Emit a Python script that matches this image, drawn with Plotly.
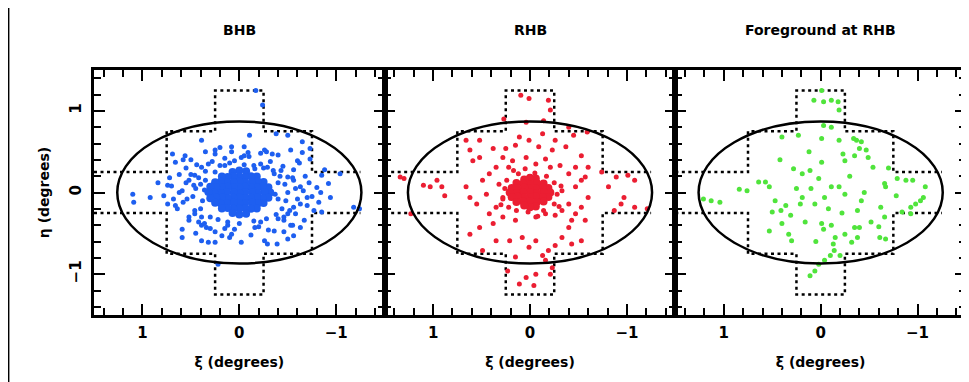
import plotly.graph_objects as go
from plotly.subplots import make_subplots

# ---------------- data (degrees) ----------------
panel_titles = ["BHB", "RHB", "Foreground at RHB"]
x_tick_vals = [1, 0, -1]
y_tick_vals = [-1, 0, 1]

# BHB: scattered stars
bhb_xi = [-0.17, -0.24, -0.105, -0.38, -0.50, 0.39, 0.69, 0.66, 0.56, 0.25,
          0.08, -0.09, -0.26, -0.34, -0.53, -0.65, -0.65, -0.60, -0.73, -0.73,
          -0.85, -1.04, -0.92, -0.94, -0.84, -0.77, -0.85, -1.24, -1.18, 1.10,
          1.09, 0.92, 0.74, 0.74, 0.66, 0.59, 0.54, 0.47, 0.46, 0.52,
          0.59, 0.39, 0.34, 0.39, 0.32, 0.25, 0.18, 0.08, -0.02, -0.26,
          -0.29, -0.39, -0.50, -0.56, -0.63, -0.67, -0.53, -0.46, -0.36, 0.22,
          0.59, -0.22, -0.16, 0.12, 0.39, -0.36, -0.50, -0.56, -0.63, -0.70,
          -0.63, -0.56, -0.50, 0.39, 0.32, 0.25, 0.46, 0.52, 0.35, -0.22,
          -0.29, -0.16, -0.43, 0.05, 0.15, -0.02]
bhb_eta = [1.25, 1.07, 0.70, 0.72, 0.70, 0.64, 0.47, 0.37, 0.45, 0.52,
           0.56, 0.49, 0.52, 0.47, 0.52, 0.62, 0.49, 0.39, 0.54, 0.41,
           0.21, 0.23, 0.11, -0.06, 0.0, -0.22, -0.24, -0.20, -0.18, -0.02,
           -0.12, -0.06, 0.09, -0.14, -0.16, 0.02, -0.08, 0.09, -0.22, -0.34,
           -0.45, -0.40, -0.43, -0.59, -0.61, -0.61, -0.53, -0.51, -0.61, -0.59,
           -0.63, -0.63, -0.57, -0.53, -0.43, -0.34, -0.40, -0.34, -0.47, -0.88,
           -0.55, -0.36, -0.43, -0.40, -0.30, 0.23, 0.19, 0.15, 0.07, -0.06,
           -0.14, -0.18, -0.26, 0.31, 0.35, 0.25, 0.21, 0.15, 0.15, 0.35,
           0.31, 0.29, 0.27, 0.39, 0.33, 0.43]
# BHB: halo around the concentration
bhb_halo_xi = [0.45, 0.48, 0.42, 0.40, 0.35, 0.30, 0.20, 0.10, -0.05, -0.15,
               -0.25, -0.35, -0.42, -0.47, -0.50, -0.48, -0.44, -0.38, -0.28, -0.15,
               0.0, 0.12, 0.22, 0.55, 0.58, -0.58, -0.60, -0.55, -0.52, 0.50,
               0.46, 0.15, -0.10, 0.05, -0.20, 0.28, -0.32, 0.62, -0.66, 0.36,
               -0.40, 0.70, 0.68, -0.72, -0.75, 0.25, -0.22, 0.30, -0.30, 0.08,
               0.62, 0.64, 0.55, 0.52, 0.44, 0.42, -0.45, -0.46, -0.56, -0.58,
               -0.68, -0.70, 0.72, 0.78, -0.80, -0.82, 0.20, -0.05, 0.10, -0.12,
               0.35, -0.40, 0.45, -0.46, 0.58, -0.62, 0.84, -0.88, 0.40, -0.40,
               0.38, -0.40, 0.15, -0.05, 0.25, -0.28, 0.50, -0.55, 0.36, -0.37]
bhb_halo_eta = [0.05, -0.05, 0.18, -0.20, 0.26, -0.30, 0.33, 0.36, 0.34, 0.33,
                0.30, 0.27, 0.20, 0.10, 0.0, -0.10, -0.20, -0.27, -0.32, -0.35,
                -0.38, -0.36, -0.33, 0.12, -0.12, 0.05, -0.08, 0.18, -0.22, 0.22,
                -0.26, 0.42, 0.44, -0.45, -0.42, 0.38, 0.38, 0.0, 0.02, -0.38,
                -0.32, 0.08, -0.08, 0.12, -0.05, 0.47, 0.48, -0.44, -0.46, 0.50,
                0.22, -0.20, 0.30, -0.30, 0.34, -0.36, 0.32, -0.30, 0.28, -0.26,
                0.20, -0.16, 0.18, -0.04, 0.06, -0.12, 0.55, 0.56, -0.55, -0.52,
                0.50, 0.46, -0.50, -0.48, 0.40, 0.36, 0.12, 0.28, 0.10, -0.08,
                -0.10, 0.12, -0.44, 0.45, -0.48, 0.50, 0.40, -0.40, 0.03, -0.02]
# BHB: dense central concentration
bhb_core_xi = [-0.07, 0.00, 0.07,
               -0.18, -0.12, -0.06, 0.00, 0.06, 0.12, 0.18,
               -0.25, -0.19, -0.13, -0.06, 0.00, 0.06, 0.13, 0.19, 0.25,
               -0.30, -0.24, -0.18, -0.12, -0.06, 0.00, 0.06, 0.12, 0.18, 0.24, 0.30,
               -0.32, -0.26, -0.19, -0.13, -0.06, 0.00, 0.06, 0.13, 0.19, 0.26, 0.32,
               -0.30, -0.24, -0.18, -0.12, -0.06, 0.00, 0.06, 0.12, 0.18, 0.24, 0.30,
               -0.25, -0.19, -0.13, -0.06, 0.00, 0.06, 0.13, 0.19, 0.25,
               -0.18, -0.12, -0.06, 0.00, 0.06, 0.12, 0.18,
               -0.07, 0.00, 0.07]
bhb_core_eta = [0.26, 0.27, 0.25,
                0.195, 0.20, 0.19, 0.195, 0.20, 0.19, 0.195,
                0.13, 0.135, 0.125, 0.13, 0.135, 0.125, 0.13, 0.135, 0.125,
                0.065, 0.07, 0.06, 0.065, 0.07, 0.06, 0.065, 0.07, 0.06, 0.065, 0.07,
                0.0, 0.005, -0.005, 0.0, 0.005, -0.005, 0.0, 0.005, -0.005, 0.0, 0.005,
                -0.065, -0.07, -0.06, -0.065, -0.07, -0.06, -0.065, -0.07, -0.06, -0.065, -0.07,
                -0.13, -0.135, -0.125, -0.13, -0.135, -0.125, -0.13, -0.135, -0.125,
                -0.195, -0.20, -0.19, -0.195, -0.20, -0.19, -0.195,
                -0.26, -0.27, -0.25]

# RHB: scattered stars
rhb_xi = [0.095, 0.01, -0.19, -0.21, 0.27, 0.04, -0.14, -0.40, -0.45, -0.59,
          0.66, 0.52, 0.62, 0.59, 0.52, 0.38, 0.25, 0.15, 0.01, -0.09,
          -0.23, -0.37, -0.53, -0.60, -0.57, -0.47, -0.40, -0.31, -0.21, 0.28,
          0.22, 0.35, 0.42, 0.49, 0.66, 0.62, 0.55, 0.45, 0.91, 0.88,
          0.96, 1.10, 1.03, 1.34, 1.30, 1.23, -0.74, -0.89, -1.01, -1.08,
          -0.81, -0.97, -0.94, -0.87, -1.08, -1.21, -0.60, -0.53, -0.47, -0.43,
          -0.57, -0.40, -0.33, -0.53, -0.43, -0.26, -0.19, -0.13, -0.16, -0.23,
          -0.21, -0.06, 0.04, 0.11, -0.04, 0.23, 0.15, 0.01, -0.06, 0.08,
          0.21, 0.35, 0.49, 0.62, 0.52, 0.38, 0.28, 0.15, -0.06, -0.16,
          -0.26, -0.33, -0.40, -0.33, -0.47, -0.53, 0.28, 0.35, 0.42, 0.11,
          -0.13, -0.26, 0.18, 0.04, -0.06, -0.16]
rhb_eta = [1.19, 1.15, 1.13, 1.01, 0.90, 0.86, 0.88, 0.80, 0.70, 0.74,
           0.64, 0.64, 0.52, 0.39, 0.43, 0.54, 0.54, 0.58, 0.64, 0.56,
           0.52, 0.56, 0.45, 0.31, 0.19, 0.31, 0.23, 0.33, 0.31, 0.43,
           0.31, 0.31, 0.23, 0.15, 0.07, -0.06, -0.14, -0.02, 0.07, -0.04,
           0.15, 0.09, 0.07, 0.19, 0.17, -0.26, 0.25, 0.19, 0.21, 0.15,
           0.07, -0.06, -0.14, -0.22, -0.18, -0.20, -0.06, -0.18, -0.26, -0.34,
           -0.34, -0.43, -0.55, -0.59, -0.63, -0.65, -0.71, -0.77, -0.83, -0.92,
           -1.0, -1.0, -1.04, -1.12, -1.14, -0.96, -0.79, -0.67, -0.59, -0.55,
           -0.59, -0.59, -0.71, -0.51, -0.43, -0.38, -0.30, -0.34, -0.30, -0.26,
           -0.28, -0.22, -0.14, 0.02, 0.07, 0.15, -0.06, -0.18, -0.26, 0.68,
           0.72, 0.64, 0.39, 0.43, 0.35, 0.41]
rhb_halo_xi = [0.26, 0.28, 0.24, 0.22, 0.12, -0.05, -0.17, -0.25, -0.28, -0.25,
               -0.14, 0.02, 0.14, 0.32, -0.32, 0.30, -0.30, 0.05, -0.08, 0.17]
rhb_halo_eta = [0.05, -0.08, 0.15, -0.18, 0.23, 0.24, 0.20, 0.12, -0.02, -0.14,
                -0.22, -0.24, -0.22, 0.10, 0.08, -0.15, -0.17, 0.29, -0.29, 0.27]
rhb_core_xi = [-0.06, 0.00, 0.06,
               -0.14, -0.07, 0.00, 0.07, 0.14,
               -0.19, -0.13, -0.06, 0.00, 0.06, 0.13, 0.19,
               -0.21, -0.14, -0.07, 0.00, 0.07, 0.14, 0.21,
               -0.19, -0.13, -0.06, 0.00, 0.06, 0.13, 0.19,
               -0.14, -0.07, 0.00, 0.07, 0.14,
               -0.06, 0.00, 0.06]
rhb_core_eta = [0.17, 0.18, 0.16,
                0.11, 0.115, 0.105, 0.11, 0.115,
                0.055, 0.06, 0.05, 0.055, 0.06, 0.05, 0.055,
                0.0, 0.005, -0.005, 0.0, 0.005, -0.005, 0.0,
                -0.055, -0.06, -0.05, -0.055, -0.06, -0.05, -0.055,
                -0.11, -0.115, -0.105, -0.11, -0.115,
                -0.17, -0.18, -0.16]

# Foreground at RHB colours
fg_xi = [-0.01, 0.07, -0.03, -0.11, -0.18, -0.19, -0.03, -0.11, 0.40, 0.23,
         -0.01, -0.19, -0.37, -0.42, -0.47, -0.40, -0.23, -0.25, -0.49, -0.54,
         -0.01, 0.11, 0.28, 0.19, 0.64, 0.57, 0.84, 0.76, 1.21, 1.04,
         1.13, 0.02, -0.11, -0.19, -0.25, -0.04, 0.06, 0.19, 0.21, 0.36,
         0.41, 0.50, 0.31, 0.53, 0.33, 0.30, 0.16, -0.01, -0.03, -0.11,
         -0.13, -0.14, -0.10, -0.20, -0.04, 0.02, 0.06, 0.11, -0.35, -0.40,
         -0.52, -0.66, -0.61, -0.67, -0.38, -0.32, -0.25, -0.42, -0.38, -0.62,
         -0.66, -0.67, -0.79, -0.88, -0.95, -0.78, -0.84, -0.93, -0.98, -1.03,
         -1.06, -1.08, -0.93, 0.47, 0.53, -0.34, -0.30, 0.10, -0.08, 0.05,
         -0.22, 0.42, -0.60, -0.45, 0.25, -0.15, 0.40, -0.70, -0.35, 0.12]
fg_eta = [1.25, 1.13, 1.11, 1.13, 1.11, 1.01, 0.82, 0.80, 0.68, 0.70,
          0.66, 0.64, 0.64, 0.62, 0.52, 0.54, 0.47, 0.39, 0.43, 0.31,
          0.37, 0.27, 0.29, 0.23, 0.13, 0.13, 0.04, 0.02, -0.08, -0.12,
          -0.10, 0.17, 0.07, 0.07, -0.02, -0.06, -0.14, -0.06, -0.14, -0.16,
          -0.22, -0.24, -0.28, -0.47, -0.51, -0.59, -0.36, -0.38, -0.45, -0.40,
          -0.63, -0.71, -0.77, -0.77, -0.83, -0.88, -0.96, -1.02, -0.43, -0.43,
          -0.36, -0.30, -0.55, -0.57, -0.55, -0.61, -0.51, -0.10, -0.22, -0.18,
          0.11, 0.07, 0.17, 0.15, 0.15, -0.04, -0.24, -0.26, -0.14, -0.10,
          -0.06, 0.07, -0.18, -0.10, 0.07, 0.66, 0.20, 0.05, -0.20, -0.60,
          -0.25, 0.40, -0.42, 0.00, 0.05, -0.55, -0.38, 0.30, 0.45, 0.50]

# survey field outline (cross shape), two halves separated by None
field_xi = [1.5, 0.75, 0.75, 0.25, 0.25, -0.25, -0.25, -0.75, -0.75, -1.25, None,
            1.5, 0.75, 0.75, 0.25, 0.25, -0.25, -0.25, -0.75, -0.75, -1.25]
field_eta = [0.25, 0.25, 0.75, 0.75, 1.25, 1.25, 0.75, 0.75, 0.25, 0.25, None,
             -0.25, -0.25, -0.75, -0.75, -1.25, -1.25, -0.75, -0.75, -0.25, -0.25]

# tidal ellipse semi-axes (degrees)
ellipse_a = 1.26
ellipse_b = 0.87

# ---------------- figure ----------------
BLUE = "rgb(30,95,240)"
RED = "rgb(235,30,50)"
GREEN = "rgb(80,228,60)"
FONT = "DejaVu Sans"

fig = make_subplots(rows=1, cols=3, shared_yaxes=True, horizontal_spacing=0)

panels = [
    (1, BLUE, [(bhb_xi, bhb_eta, 5), (bhb_halo_xi, bhb_halo_eta, 5), (bhb_core_xi, bhb_core_eta, 8)]),
    (2, RED, [(rhb_xi, rhb_eta, 5), (rhb_halo_xi, rhb_halo_eta, 5), (rhb_core_xi, rhb_core_eta, 8)]),
    (3, GREEN, [(fg_xi, fg_eta, 5)]),
]

for col, colour, sets in panels:
    fig.add_trace(go.Scatter(x=field_xi, y=field_eta, mode="lines",
                             line=dict(color="black", width=2.5, dash="3px,3.5px"),
                             hoverinfo="skip", showlegend=False), row=1, col=col)
    for xs, ys, sz in sets:
        fig.add_trace(go.Scatter(x=xs, y=ys, mode="markers",
                                 marker=dict(color=colour, size=sz, line=dict(width=0)),
                                 showlegend=False), row=1, col=col)
    sfx = "" if col == 1 else str(col)
    fig.add_shape(type="circle", xref="x" + sfx, yref="y" + sfx,
                  x0=-ellipse_a, x1=ellipse_a, y0=-ellipse_b, y1=ellipse_b,
                  line=dict(color="black", width=2.5), layer="above")

tickfont = dict(family=FONT, size=15, color="black", weight="bold")
axis_common = dict(showline=True, linecolor="black", linewidth=2.5, mirror="ticks",
                   ticks="inside", ticklen=11, tickwidth=2, tickcolor="black",
                   showgrid=False, zeroline=False, tickfont=tickfont, automargin=False,
                   minor=dict(ticks="inside", ticklen=7, tickwidth=2, tickcolor="black",
                              dtick=0.2, tick0=0, showgrid=False))

for col in (1, 2, 3):
    fig.update_xaxes(range=[1.5, -1.5], tickmode="array", tickvals=x_tick_vals,
                     ticklabelstandoff=2,
                     title=dict(text="ξ (degrees)", standoff=17,
                                font=dict(family=FONT, size=14, color="black", weight="bold")),
                     row=1, col=col, **axis_common)
    fig.update_yaxes(range=[-1.5, 1.5], tickmode="array", tickvals=y_tick_vals,
                     tickangle=-90, row=1, col=col, **axis_common)

fig.update_yaxes(title=dict(text="η (degrees)", standoff=15,
                            font=dict(family=FONT, size=14, color="black", weight="bold")),
                 ticklabelstandoff=4, row=1, col=1)

# white page on a black frame (page is shown with an offset)
fig.add_shape(type="rect", xref="paper", yref="paper", x0=-0.097, x1=1.1, y0=-0.4, y1=1.4,
              fillcolor="white", line=dict(width=0), layer="below")

for i, t in enumerate(panel_titles):
    fig.add_annotation(text=t, xref="paper", yref="paper", x=(i + 0.5) / 3, y=1.162,
                       xanchor="center", yanchor="middle", showarrow=False,
                       font=dict(family=FONT, size=14, color="black", weight="bold"))

fig.update_layout(width=961, height=374, paper_bgcolor="black", plot_bgcolor="white",
                  margin=dict(l=86, r=3, t=62, b=67), showlegend=False)

fig.write_html("out.html")
